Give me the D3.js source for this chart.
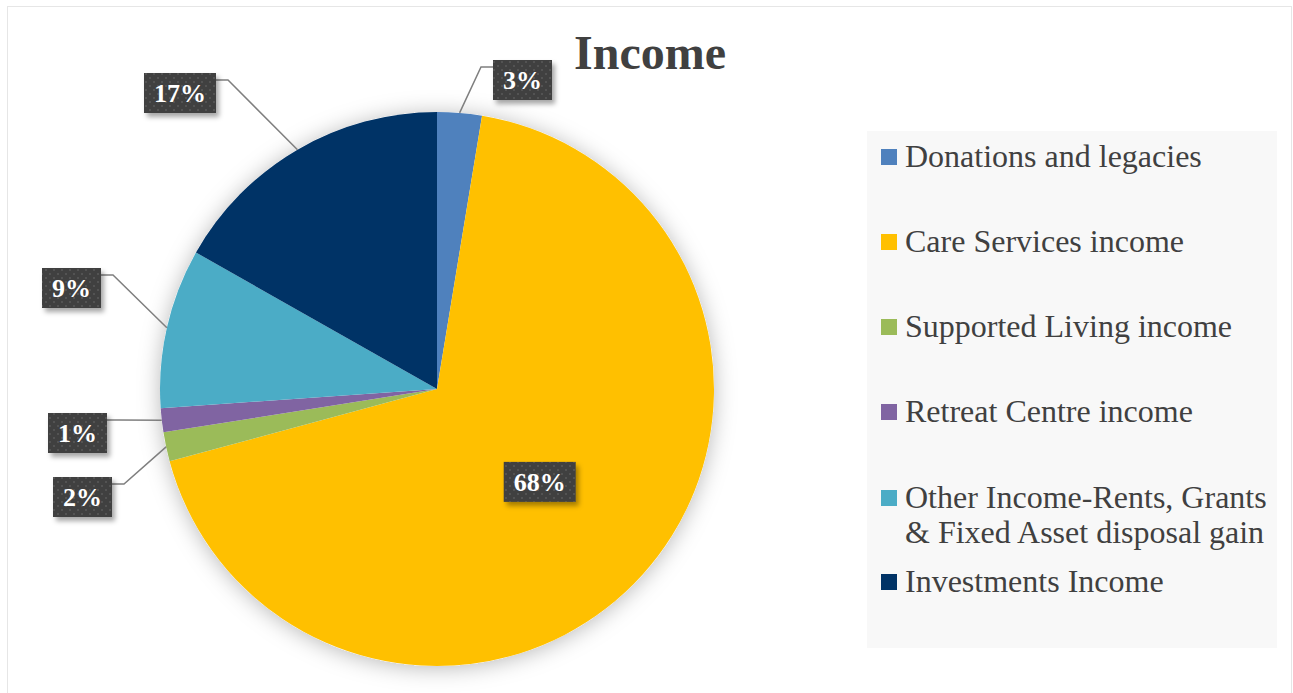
<!DOCTYPE html>
<html lang="en">
<head>
  <meta charset="UTF-8">
  <title>Income</title>
  <style>
    html, body { margin: 0; padding: 0; background: #fff; }
    svg { display: block; }
    svg text { font-family: "Liberation Serif", "Times New Roman", serif; }
  </style>
</head>
<body>
  <div class="container"></div>
  <script src="https://d3js.org/d3.v7.min.js"></script>
  <script>
    // data (percent of income)
    const categories = [
      "Donations and legacies",
      "Care Services income",
      "Supported Living income",
      "Retreat Centre income",
      "Other Income-Rents, Grants & Fixed Asset disposal gain",
      "Investments Income"
    ];
    const values = [2.6, 68.2, 1.7, 1.4, 9.3, 16.8];
    const colors = ["#4f81bd", "#ffc000", "#9bbb59", "#8064a2", "#4bacc6", "#003366"];
    // legend text split into lines
    const legendLines = [
      ["Donations and legacies"],
      ["Care Services income"],
      ["Supported Living income"],
      ["Retreat Centre income"],
      ["Other Income-Rents, Grants", "& Fixed Asset disposal gain"],
      ["Investments Income"]
    ];

    const W = 1293, H = 693;
    const cx = 437, cy = 389, r = 277;

    // where the outside data labels sit (top-left of box), null = inside the slice
    const labelBox = [[493, 60], null, [53, 477], [48, 413], [42, 268], [144, 73]];
    const legendBaseline = [167, 252, 337, 422, 508, 592];

    const svg = d3.select('.container')
      .append('svg')
      .attr('width', W)
      .attr('height', H)

    const defs = svg.append('defs')
    const sh = defs.append('filter').attr('id', 'pieShadow')
      .attr('x', '-20%').attr('y', '-20%').attr('width', '140%').attr('height', '140%')
    sh.append('feDropShadow').attr('dx', 0).attr('dy', 2).attr('stdDeviation', 11)
      .attr('flood-color', '#000').attr('flood-opacity', 0.28)

    const bs = defs.append('filter').attr('id', 'boxShadow')
      .attr('x', '-20%').attr('y', '-20%').attr('width', '150%').attr('height', '160%')
    bs.append('feDropShadow').attr('dx', 3).attr('dy', 4).attr('stdDeviation', 2.5)
      .attr('flood-color', '#000').attr('flood-opacity', 0.35)

    const pat = defs.append('pattern').attr('id', 'dots')
      .attr('width', 8).attr('height', 8).attr('patternUnits', 'userSpaceOnUse')
    pat.append('rect').attr('width', 8).attr('height', 8).attr('fill', '#404040')
    pat.append('circle').attr('cx', 2).attr('cy', 2).attr('r', 1.1).attr('fill', '#565656')
    pat.append('circle').attr('cx', 6).attr('cy', 6).attr('r', 1.1).attr('fill', '#565656')

    // faint outer frame
    svg.append('rect')
      .attr('x', 7.5).attr('y', 6.5)
      .attr('width', 1284).attr('height', 720)
      .attr('fill', 'none').attr('stroke', '#e6e6e6')

    // title
    svg.append('text')
      .attr('x', 650).attr('y', 69)
      .attr('text-anchor', 'middle')
      .style('font-size', '48px')
      .style('font-weight', 'bold')
      .attr('fill', '#404040')
      .text('Income')

    const pieData = d3.pie().sort(null).value(d => d)(values)
    const arc = d3.arc().innerRadius(0).outerRadius(r)

    const g = svg.append('g').attr('transform', `translate(${cx}, ${cy})`)

    g.append('circle').attr('r', r).attr('fill', '#fff').attr('filter', 'url(#pieShadow)')

    g.selectAll('path.slice')
      .data(pieData)
      .enter()
      .append('path')
      .attr('class', 'slice')
      .attr('d', arc)
      .attr('fill', (d, i) => colors[i])

    // data labels
    const fmt = v => Math.round(v) + '%'
    pieData.forEach((d, i) => {
      const mid = (d.startAngle + d.endAngle) / 2
      const label = fmt(d.value)
      const t = svg.append('text')
        .style('font-size', '26px')
        .style('font-weight', 'bold')
        .attr('fill', '#fff')
        .attr('text-anchor', 'middle')
        .text(label)
      const tw = t.node().getComputedTextLength()
      const bw = tw + 20, bh = 40
      let bx, by
      if (labelBox[i]) {
        bx = labelBox[i][0]; by = labelBox[i][1]
      } else {
        const rr = r * 0.5
        bx = cx + rr * Math.sin(mid) - bw / 2
        by = cy - rr * Math.cos(mid) - bh / 2
      }

      if (labelBox[i]) {
        const px = cx + r * Math.sin(mid), py = cy - r * Math.cos(mid)
        const right = bx + bw / 2 < px
        const sx = right ? bx + bw : bx
        const ex = right ? sx + 12 : sx - 12
        const ly = by + 7
        svg.append('path')
          .attr('d', `M${sx},${ly}L${ex},${ly}L${px},${py}`)
          .attr('fill', 'none')
          .attr('stroke', '#7f7f7f')
          .attr('stroke-width', 1.5)
      }

      svg.append('rect')
        .attr('x', bx).attr('y', by)
        .attr('width', bw).attr('height', bh)
        .attr('fill', 'url(#dots)')
        .attr('filter', 'url(#boxShadow)')
      t.attr('x', bx + bw / 2).attr('y', by + 29).raise()
    })

    // legend
    const lg = svg.append('g')
    lg.append('rect')
      .attr('x', 867).attr('y', 131)
      .attr('width', 410).attr('height', 517)
      .attr('fill', '#f8f8f8')

    categories.forEach((c, i) => {
      const y = legendBaseline[i]
      lg.append('rect')
        .attr('x', 881).attr('y', y - 18)
        .attr('width', 16).attr('height', 16)
        .attr('fill', colors[i])
      legendLines[i].forEach((line, j) => {
        lg.append('text')
          .attr('x', 905).attr('y', y + j * 35)
          .style('font-size', '32px')
          .attr('fill', '#404040')
          .text(line)
      })
    })
  </script>
</body>
</html>
